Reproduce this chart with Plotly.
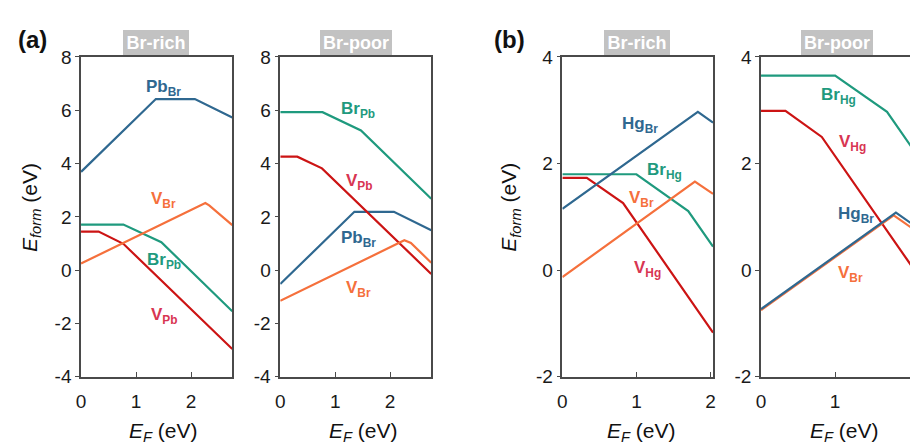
import plotly.graph_objects as go

# ---- formation-energy data (E_F in eV, E_form in eV) ----
# (a) Pb-based defects
a_rich_PbBr_x = [0, 1.36, 2.07, 2.75]
a_rich_PbBr_y = [3.69, 6.42, 6.42, 5.73]
a_rich_VBr_x = [0, 2.26, 2.33, 2.75]
a_rich_VBr_y = [0.25, 2.52, 2.43, 1.69]
a_rich_BrPb_x = [0, 0.77, 1.46, 2.75]
a_rich_BrPb_y = [1.71, 1.71, 1.05, -1.54]
a_rich_VPb_x = [0, 0.32, 0.77, 2.75]
a_rich_VPb_y = [1.45, 1.45, 0.99, -2.96]

a_poor_BrPb_x = [0, 0.77, 1.47, 2.75]
a_poor_BrPb_y = [5.93, 5.93, 5.24, 2.68]
a_poor_VPb_x = [0, 0.31, 0.76, 2.75]
a_poor_VPb_y = [4.26, 4.26, 3.82, -0.14]
a_poor_PbBr_x = [0, 1.35, 2.07, 2.75]
a_poor_PbBr_y = [-0.52, 2.19, 2.19, 1.50]
a_poor_VBr_x = [0, 2.26, 2.38, 2.75]
a_poor_VBr_y = [-1.15, 1.12, 1.02, 0.28]

# (b) Hg-based defects
b_rich_HgBr_x = [0, 1.83, 2.035]
b_rich_HgBr_y = [1.15, 2.97, 2.77]
b_rich_BrHg_x = [0, 1.0, 1.70, 2.035]
b_rich_BrHg_y = [1.80, 1.80, 1.11, 0.44]
b_rich_VHg_x = [0, 0.33, 0.82, 2.035]
b_rich_VHg_y = [1.73, 1.73, 1.26, -1.17]
b_rich_VBr_x = [0, 1.79, 2.035]
b_rich_VBr_y = [-0.13, 1.66, 1.43]

b_poor_BrHg_x = [0, 1.0, 1.70, 2.035]
b_poor_BrHg_y = [3.65, 3.65, 2.97, 2.30]
b_poor_VHg_x = [0, 0.33, 0.82, 2.035]
b_poor_VHg_y = [2.99, 2.99, 2.50, 0.07]
b_poor_VBr_x = [0, 1.79, 2.035]
b_poor_VBr_y = [-0.75, 1.03, 0.79]
b_poor_HgBr_x = [0, 1.82, 2.035]
b_poor_HgBr_y = [-0.73, 1.08, 0.87]

panel_titles = ["Br-rich", "Br-poor", "Br-rich", "Br-poor"]
panel_tags = ["(a)", "(b)"]
x_ticks = [0, 1, 2]
y_ticks_a = [-4, -2, 0, 2, 4, 6, 8]
y_ticks_b = [-2, 0, 2, 4]

# ---- styling ----
BLUE = "#2f6890"
ORANGE = "#f5703c"
GREEN = "#1f9a7e"
RED = "#cc1414"
RED_TXT = "#d83552"
AXIS = "#4a4a4a"
FONT = "Arial, Liberation Sans, Helvetica, sans-serif"
TICK_SIZE = 19

W, H = 913, 444
# plot-area pixel boxes (left, right) and common top/bottom
px_boxes = [(76.7, 229.3), (277.7, 430.0), (562.3, 714.3), (762.7, 913.0)]
top_px, bot_px = 49.3, 385.0
xranges = [[0, 2.75], [0, 2.75], [0, 2.035], [0, 2.01]]
yranges = [[-4, 8], [-4, 8], [-2, 4], [-2, 4]]
yticks = [y_ticks_a, y_ticks_a, y_ticks_b, y_ticks_b]

fig = go.Figure()

series = [
    # panel, x, y, color
    (1, a_rich_BrPb_x, a_rich_BrPb_y, GREEN),
    (1, a_rich_VPb_x, a_rich_VPb_y, RED),
    (1, a_rich_VBr_x, a_rich_VBr_y, ORANGE),
    (1, a_rich_PbBr_x, a_rich_PbBr_y, BLUE),
    (2, a_poor_BrPb_x, a_poor_BrPb_y, GREEN),
    (2, a_poor_PbBr_x, a_poor_PbBr_y, BLUE),
    (2, a_poor_VPb_x, a_poor_VPb_y, RED),
    (2, a_poor_VBr_x, a_poor_VBr_y, ORANGE),
    (3, b_rich_BrHg_x, b_rich_BrHg_y, GREEN),
    (3, b_rich_VHg_x, b_rich_VHg_y, RED),
    (3, b_rich_VBr_x, b_rich_VBr_y, ORANGE),
    (3, b_rich_HgBr_x, b_rich_HgBr_y, BLUE),
    (4, b_poor_BrHg_x, b_poor_BrHg_y, GREEN),
    (4, b_poor_VHg_x, b_poor_VHg_y, RED),
    (4, b_poor_VBr_x, b_poor_VBr_y, ORANGE),
    (4, b_poor_HgBr_x, b_poor_HgBr_y, BLUE),
]

for p, xs, ys, c in series:
    sfx = "" if p == 1 else str(p)
    fig.add_trace(go.Scatter(
        x=xs, y=ys, mode="lines", line=dict(color=c, width=2.2),
        xaxis="x" + sfx, yaxis="y" + sfx, showlegend=False, hoverinfo="skip",
    ))

layout = dict(
    width=W, height=H, margin=dict(l=0, r=0, t=0, b=0),
    paper_bgcolor="white", plot_bgcolor="white",
    font=dict(family=FONT, size=TICK_SIZE, color="#1a1a1a"),
    showlegend=False,
)

for i, ((l, r), xr, yr, yt) in enumerate(zip(px_boxes, xranges, yranges, yticks)):
    sfx = "" if i == 0 else str(i + 1)
    layout["xaxis" + sfx] = dict(
        domain=[l / W, r / W], range=xr, anchor="y" + sfx,
        showgrid=False, zeroline=False, showline=True, linecolor=AXIS,
        linewidth=1.5, mirror=True, ticks="inside", ticklen=5, tickwidth=1.3,
        tickcolor=AXIS, tickvals=x_ticks, ticktext=[str(v) for v in x_ticks],
        ticklabelstandoff=7, tickfont=dict(size=TICK_SIZE, color="#1a1a1a"),
    )
    layout["yaxis" + sfx] = dict(
        domain=[(H - bot_px) / H, (H - top_px) / H], range=yr, anchor="x" + sfx,
        showgrid=False, zeroline=False, showline=True, linecolor=AXIS,
        linewidth=1.5, mirror=(i != 3), ticks="outside", ticklen=4, tickwidth=1.3,
        tickcolor=AXIS, tickvals=yt, ticktext=[str(v) for v in yt],
        tickfont=dict(size=TICK_SIZE, color="#1a1a1a"),
    )

fig.update_layout(**layout)

ann = []

def lab(p, x, y, main, sub, color):
    sfx = "" if p == 1 else str(p)
    ann.append(dict(
        x=x, y=y, xref="x" + sfx, yref="y" + sfx, showarrow=False,
        xanchor="center", yanchor="middle",
        text=f"<b>{main}<sub>{sub}</sub></b>",
        font=dict(family=FONT, size=17, color=color),
    ))

# defect labels
lab(1, 1.50, 6.85, "Pb", "Br", BLUE)
lab(1, 1.50, 2.62, "V", "Br", ORANGE)
lab(1, 1.50, 0.34, "Br", "Pb", GREEN)
lab(1, 1.51, -1.72, "V", "Pb", RED_TXT)

lab(2, 1.41, 6.02, "Br", "Pb", GREEN)
lab(2, 1.44, 3.32, "V", "Pb", RED_TXT)
lab(2, 1.43, 1.16, "Pb", "Br", BLUE)
lab(2, 1.42, -0.72, "V", "Br", ORANGE)

lab(3, 1.05, 2.73, "Hg", "Br", BLUE)
lab(3, 1.38, 1.87, "Br", "Hg", GREEN)
lab(3, 1.07, 1.33, "V", "Br", ORANGE)
lab(3, 1.15, 0.03, "V", "Hg", RED_TXT)

lab(4, 1.04, 3.26, "Br", "Hg", GREEN)
lab(4, 1.24, 2.39, "V", "Hg", RED_TXT)
lab(4, 1.28, 1.03, "Hg", "Br", BLUE)
lab(4, 1.21, -0.08, "V", "Br", ORANGE)

# condition badges above each panel
badge_cx = [152.0, 354.0, 638.0, 839.0]
badge_w = [66, 72, 66, 72]
for cx, bw, t in zip(badge_cx, badge_w, panel_titles):
    ann.append(dict(
        x=cx / W, y=(H - 34.5) / H, xref="paper", yref="paper", showarrow=False,
        xanchor="center", yanchor="middle", text=f"<b>{t}</b>",
        font=dict(family=FONT, size=18, color="white"),
        bgcolor="#c2c2c2", width=bw, height=25, borderpad=0, borderwidth=0,
    ))

# panel tags
for cx, t in zip([27.5, 509.0], panel_tags):
    ann.append(dict(
        x=cx / W, y=(H - 31) / H, xref="paper", yref="paper", showarrow=False,
        xanchor="center", yanchor="middle", text=f"<b>{t}</b>",
        font=dict(family=FONT, size=24, color="#111"),
    ))

# axis titles
for cx in [26.0, 510.0]:
    ann.append(dict(
        x=cx / W, y=(H - 207) / H, xref="paper", yref="paper", showarrow=False,
        xanchor="center", yanchor="middle", textangle=-90,
        text="<i>E</i><sub><i>form</i></sub> (eV)",
        font=dict(family=FONT, size=21, color="#111"),
    ))
for cx in [160.0, 361.5, 642.5, 847.0]:
    ann.append(dict(
        x=cx / W, y=(H - 443) / H, xref="paper", yref="paper", showarrow=False,
        xanchor="center", yanchor="middle",
        text="<i>E</i><sub><i>F</i></sub> (eV)",
        font=dict(family=FONT, size=21, color="#111"),
    ))

fig.update_layout(annotations=ann)
fig.write_html("out.html")
